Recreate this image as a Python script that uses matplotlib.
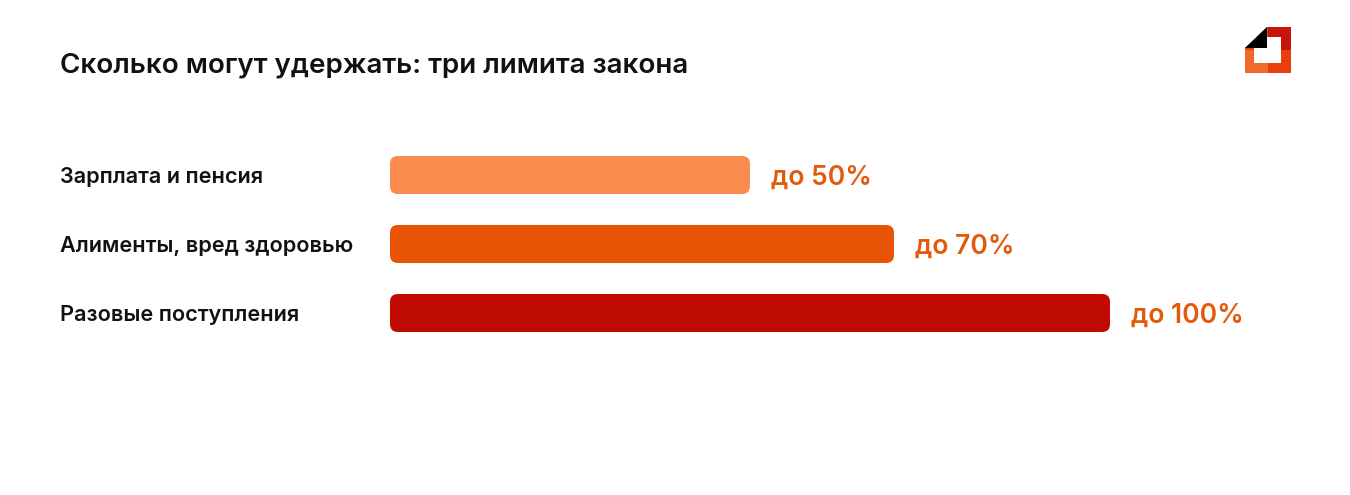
import matplotlib
matplotlib.use("Agg")
import matplotlib.pyplot as plt
from matplotlib.patches import FancyBboxPatch, Polygon, Rectangle

categories = ["Зарплата и пенсия", "Алименты, вред здоровью", "Разовые поступления"]
values = [50, 70, 100]
value_labels = ["до 50%", "до 70%", "до 100%"]
colors = ["#F98C4E", "#E85305", "#C00A04"]

W, H = 1350, 495
fig = plt.figure(figsize=(W/100, H/100), dpi=100)
fig.patch.set_facecolor("white")
FONT = ["Inter", "DejaVu Sans"]

ax = fig.add_axes([390/W, (H-350)/H, 720/W, 210/H])
ax.set_xlim(0, 100)
ax.set_ylim(2 + 37/69, -35/69)
ax.axis("off")
bh = 38/69
for i, (v, c, lab) in enumerate(zip(values, colors, value_labels)):
    p = FancyBboxPatch((0, i - bh/2), v, bh, boxstyle="round,pad=0,rounding_size=1.1",
                       mutation_aspect=7.2/69, fc=c, ec="none")
    ax.add_patch(p)
    ax.text(v + 2.9, i, lab, va="center_baseline", ha="left", color="#E35A0C",
            fontsize=19, fontweight="semibold", family=FONT)
    fig.text(60/W, 1 - (175 + 69*i)/H, categories[i], va="center_baseline", ha="left",
             fontsize=15.6, fontweight="semibold", color="#111111", family=FONT)

fig.text(60/W, 1 - 62/H, "Сколько могут удержать: три лимита закона", va="center_baseline",
         ha="left", fontsize=20, fontweight="semibold", color="#111111", family=FONT)

# logo
lx = fig.add_axes([1245/W, 1-73/H, 46/W, 46/H])
lx.set_xlim(0, 46); lx.set_ylim(46, 0); lx.axis("off")
lx.add_patch(Rectangle((0, 0), 46, 46, fc="#E8400C", ec="none"))
lx.add_patch(Rectangle((23, 0), 23, 23, fc="#C8140A", ec="none"))
lx.add_patch(Rectangle((0, 23), 23, 23, fc="#F26A2A", ec="none"))
lx.add_patch(Rectangle((9, 10), 27, 26, fc="white", ec="none"))
lx.add_patch(Polygon([(0, 0), (22, 0), (0, 21)], fc="white", ec="none"))
lx.add_patch(Polygon([(0, 21), (22, 0), (22, 21)], fc="black", ec="none"))

fig.savefig("out.png", dpi=100, facecolor="white")
